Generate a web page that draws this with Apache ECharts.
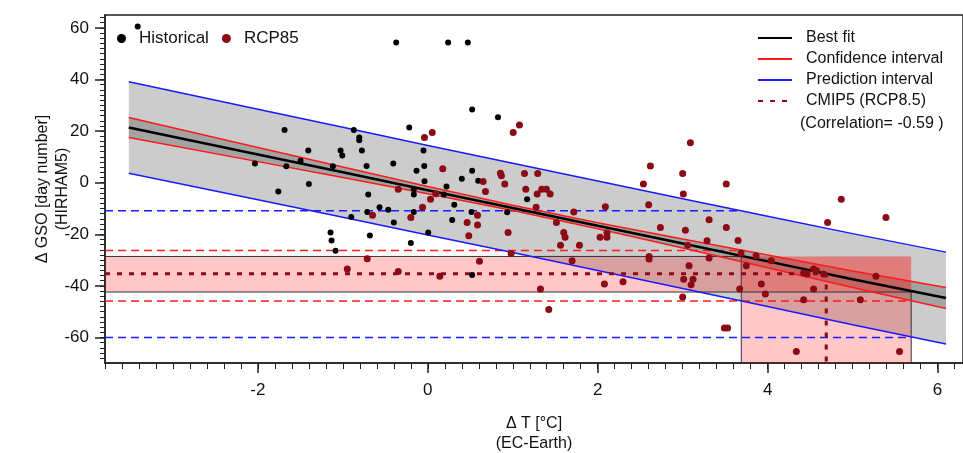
<!DOCTYPE html>
<html><head><meta charset="utf-8">
<script src="https://cdn.jsdelivr.net/npm/echarts@6.0.0/dist/echarts.min.js"></script>
<style>html,body{margin:0;padding:0;background:#fff}#chart{width:963px;height:453px}</style>
</head><body><div id="chart"></div>
<script>
// ---------- data ----------
const xTicks = [-2, 0, 2, 4, 6];
const yTicks = [-60, -40, -20, 0, 20, 40, 60];
const xMin = -3.8, xMax = 6.3, yMin = -69.9, yMax = 65;

const histX = [-3.415,-0.372,0.239,0.471,0.522,0.826,-0.219,-0.051,-1.686,-0.871,-0.807,-0.807,-1.407,-1.027,-1.007,-0.776,-1.498,-2.035,-1.666,-1.118,-0.721,-0.407,-0.133,-0.042,0.522,0.400,0.593,-0.039,0.220,-1.400,-1.760,-0.165,-0.165,0.188,-0.701,-0.568,-0.466,-0.713,-0.901,-0.165,0.311,0.514,-0.400,0.287,0.005,-1.145,-1.133,-1.086,-0.682,-0.200,1.169,0.934,0.522];
const histY = [60.5,54.3,54.3,54.3,28.4,25.4,21.4,12.5,20.4,20.4,17.5,16.4,12.5,12.5,10.5,12.5,8.5,7.4,6.4,6.4,6.5,7.4,4.6,6.5,4.6,1.5,0.7,0.6,-1.5,-0.5,-3.4,-2.5,-4.6,-4.6,-4.6,-9.5,-10.5,-11.4,-13.3,-11.4,-8.6,-11.4,-15.4,-14.5,-19.3,-19.3,-22.4,-26.4,-20.5,-23.4,-6.4,-11.5,-35.8];

const rcpX = [-0.039,0.052,1.005,1.079,3.091,0.176,-0.348,0.032,0.094,-0.651,-0.062,-0.200,0.585,0.463,0.585,0.482,-0.713,-0.948,-0.348,0.141,0.608,2.620,2.538,3.000,3.008,2.600,2.090,2.738,3.032,3.287,3.059,0.855,0.866,0.906,1.138,1.294,1.153,1.287,1.341,1.396,1.440,1.275,1.514,1.718,1.600,1.616,2.028,2.109,2.109,1.785,1.562,0.945,0.651,0.679,0.981,1.699,1.326,1.424,2.079,2.298,2.605,2.605,3.075,3.012,3.122,3.099,3.000,3.311,3.311,3.513,3.514,4.867,4.706,5.393,3.652,3.687,3.864,4.044,3.749,3.671,3.926,3.973,4.424,4.464,4.541,4.573,4.659,4.541,4.424,5.091,5.275,3.491,3.529,4.338,5.553];
const rcpY = [17.5,19.5,19.5,22.4,15.5,5.4,-2.5,-6.4,-4.3,-12.6,-9.5,-13.5,-12.6,-15.4,-16.4,-20.6,-29.5,-33.5,-34.4,-36.3,-30.5,6.5,-0.5,3.6,-4.4,-8.6,-9.3,-17.4,-18.4,-22.5,-24.3,3.7,2.7,-0.5,3.6,3.6,-2.5,-4.4,-2.5,-2.5,-4.4,-9.5,-15.4,-11.4,-19.3,-21.2,-21.2,-21.2,-19.5,-24.3,-24.3,-19.3,0.5,-3.4,-27.5,-30.3,-41.2,-49.2,-39.3,-38.4,-28.6,-29.6,-32.2,-37.4,-37.4,-39.6,-44.3,-14.4,-29.2,-0.5,-17.4,-6.4,-15.4,-13.5,-22.4,-27.3,-28.3,-30.3,-32.2,-41.2,-39.3,-43.2,-35.0,-35.4,-33.5,-34.0,-35.4,-41.2,-45.4,-45.4,-36.3,-56.3,-56.3,-65.4,-65.4];

// regression lines (read at these x positions)
const fitX      = [-3.52, -2, -1, 0, 1, 2, 3, 4, 5, 6.1];
const fitY      = [21.4, 10.91, 4.01, -2.90, -9.80, -16.70, -23.60, -30.50, -37.40, -44.72];
const confUpper = [25.3, 13.66, 6.04, -1.51, -8.79, -15.51, -21.85, -28.05, -34.2, -40.67];
const confLower = [17.5, 8.16, 1.98, -4.29, -10.81, -17.89, -25.35, -32.95, -40.6, -48.77];
const predUpper = [39.15, 28.46, 21.46, 14.45, 7.5, 0.65, -6.2, -13.0, -19.75, -26.92];
const predLower = [3.65, -6.64, -13.44, -20.25, -27.1, -34.05, -41.0, -48.0, -55.05, -62.52];

// CMIP5 projection range (x) and projected levels (y)
const cmipLo = 3.69, cmipMid = 4.69, cmipHi = 5.69;
const fitAtLo = -28.6, fitAtMid = -35.3, fitAtHi = -42.4;
const confUpperAtLo = -26.3, confLowerAtHi = -45.9;
const predUpperAtLo = -10.9, predLowerAtHi = -60.0;

// ---------- chart ----------
const FONT = 'Liberation Sans, Arial, Helvetica, sans-serif';
const zip = (a, b) => a.map((v, i) => [v, b[i]]);
const xMinor = []; for (let k = -19; k <= 31; k++) xMinor.push(+(k * 0.2).toFixed(2));
const yMinor = []; for (let k = -34; k <= 32; k++) yMinor.push(k * 2);

function line(name, data, color, width, type, z) {
  return { type: 'line', name, data, symbol: 'none', showSymbol: false, silent: true,
    lineStyle: { color, width, type: type || 'solid' }, itemStyle: { color }, z: z || 4, animation: false };
}

const chart = echarts.init(document.getElementById('chart'), null, { renderer: 'canvas' });
chart.setOption({
  animation: false,
  backgroundColor: '#fff',
  textStyle: { fontFamily: FONT },
  grid: { left: 105, top: 15, right: 0, bottom: 90, show: true, borderColor: '#222', borderWidth: 1.5,
    backgroundColor: 'transparent', containLabel: false, outerBoundsMode: 'none' },
  legend: [
    { data: ['Historical', 'RCP85'], left: 112, top: 25, icon: 'circle', itemWidth: 9, itemHeight: 9, itemGap: 13,
      textStyle: { fontSize: 17, color: '#111', fontFamily: FONT, padding: [0, 0, 0, 8] }, selectedMode: false },
    { data: ['Best fit', 'Confidence interval', 'Prediction interval', 'CMIP5 (RCP8.5)'], orient: 'vertical',
      left: 752, top: 25, itemWidth: 34, itemHeight: 14, itemGap: 5, selectedMode: false,
      itemStyle: { opacity: 0 },
      textStyle: { fontSize: 16, color: '#111', fontFamily: FONT, padding: [0, 0, 0, 9] } }
  ],
  graphic: [
    { type: 'text', left: 800, top: 116, style: { text: '(Correlation= -0.59 )', fontSize: 16, fill: '#111', fontFamily: FONT } }
  ],
  xAxis: [
    { type: 'value', min: xMin, max: xMax, position: 'bottom',
      axisLine: { show: true, onZero: false, lineStyle: { color: '#222', width: 1.5 } },
      axisTick: { show: true, customValues: xTicks, length: 10, lineStyle: { color: '#222', width: 1.5 } },
      axisLabel: { customValues: xTicks, fontSize: 17, color: '#111', margin: 19, fontFamily: FONT },
      splitLine: { show: false },
      name: 'Δ T [°C]\n(EC-Earth)', nameLocation: 'middle', nameGap: 51, nameMoveOverlap: false,
      nameTextStyle: { fontSize: 16, color: '#111', lineHeight: 20, fontFamily: FONT } },
    { type: 'value', min: xMin, max: xMax, position: 'bottom',
      axisLine: { show: false, onZero: false }, axisLabel: { show: false }, splitLine: { show: false },
      axisTick: { show: true, customValues: xMinor, length: 6, lineStyle: { color: '#222', width: 1 } } }
  ],
  yAxis: [
    { type: 'value', min: yMin, max: yMax, position: 'left',
      axisLine: { show: true, onZero: false, lineStyle: { color: '#222', width: 1.5 } },
      axisTick: { show: true, customValues: yTicks, length: 10, lineStyle: { color: '#222', width: 1.5 } },
      axisLabel: { customValues: yTicks, fontSize: 17, color: '#111', margin: 16, fontFamily: FONT },
      splitLine: { show: false },
      name: 'Δ GSO [day number]\n(HIRHAM5)', nameLocation: 'middle', nameGap: 32, nameRotate: 90, nameMoveOverlap: false,
      nameTextStyle: { fontSize: 16, color: '#111', lineHeight: 20, fontFamily: FONT } },
    { type: 'value', min: yMin, max: yMax, position: 'left',
      axisLine: { show: false, onZero: false }, axisLabel: { show: false }, splitLine: { show: false },
      axisTick: { show: true, customValues: yMinor, length: 5, lineStyle: { color: '#222', width: 1 } } }
  ],
  series: [
    { type: 'custom', name: 'bands', silent: true, z: 1, clip: true, data: [[0, 0], [1, 0]],
      renderItem: (params, api) => {
        const up = params.dataIndex === 0 ? predUpper : confUpper;
        const lo = params.dataIndex === 0 ? predLower : confLower;
        const pts = [];
        for (let i = 0; i < fitX.length; i++) pts.push(api.coord([fitX[i], up[i]]));
        for (let i = fitX.length - 1; i >= 0; i--) pts.push(api.coord([fitX[i], lo[i]]));
        return { type: 'polygon', shape: { points: pts }, style: { fill: 'rgba(0,0,0,0.2)' } };
      } },
    { type: 'custom', name: 'cmipRects', silent: true, z: 2, clip: true, data: [[0, 0], [1, 0]],
      renderItem: (params, api) => {
        let a, b;
        if (params.dataIndex === 0) { a = api.coord([xMin, fitAtLo]); b = api.coord([cmipHi, fitAtHi]); }
        else { a = api.coord([cmipLo, fitAtLo]); b = api.coord([cmipHi, yMin]); }
        return { type: 'rect', shape: { x: a[0], y: a[1], width: b[0] - a[0], height: b[1] - a[1] },
          style: { fill: 'rgba(255,0,0,0.22)' } };
      } },
    line('rectEdgeLo', [[xMin, fitAtLo], [cmipLo, fitAtLo], [cmipLo, yMin]], '#333', 1, 'solid', 3),
    line('rectEdgeHi', [[xMin, fitAtHi], [cmipHi, fitAtHi], [cmipHi, yMin]], '#333', 1, 'solid', 3),
    line('predLevelLo', [[xMin, predUpperAtLo], [cmipLo, predUpperAtLo]], '#1a1aff', 1.5, [8, 5], 3),
    line('predLevelHi', [[xMin, predLowerAtHi], [cmipHi, predLowerAtHi]], '#1a1aff', 1.5, [8, 5], 3),
    line('confLevelLo', [[xMin, confUpperAtLo], [cmipLo, confUpperAtLo]], '#ff1a1a', 1.5, [8, 5], 3),
    line('confLevelHi', [[xMin, confLowerAtHi], [cmipHi, confLowerAtHi]], '#ff1a1a', 1.5, [8, 5], 3),
    line('Prediction interval', zip(fitX, predUpper), '#1a1aff', 1.5),
    line('Prediction interval', zip(fitX, predLower), '#1a1aff', 1.5),
    line('Confidence interval', zip(fitX, confUpper), '#ff1a1a', 1.5),
    line('Confidence interval', zip(fitX, confLower), '#ff1a1a', 1.5),
    line('Best fit', zip(fitX, fitY), '#000', 2.5),
    line('CMIP5 (RCP8.5)', [[xMin, fitAtMid], [cmipMid, fitAtMid], [cmipMid, yMin]], '#8b0a14', 3, [5, 7], 4),
    { type: 'scatter', name: 'Historical', data: zip(histX, histY), symbol: 'circle', symbolSize: 6,
      itemStyle: { color: '#000', opacity: 1 }, z: 6, animation: false },
    { type: 'scatter', name: 'RCP85', data: zip(rcpX, rcpY), symbol: 'circle', symbolSize: 7,
      itemStyle: { color: '#8b0a14', opacity: 1 }, z: 6, animation: false }
  ]
});
</script></body></html>
